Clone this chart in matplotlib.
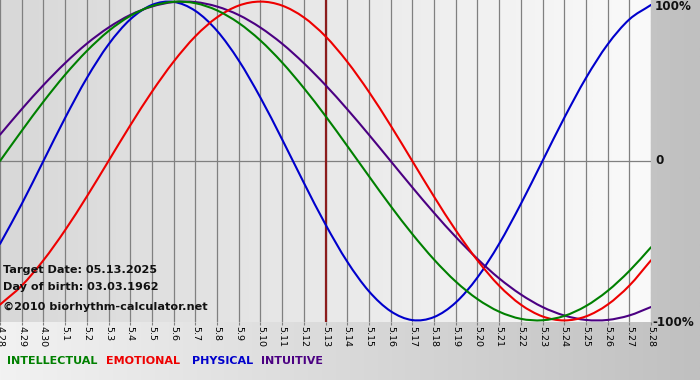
import matplotlib
matplotlib.use("Agg")
import matplotlib.pyplot as plt
import numpy as np
from matplotlib.path import Path
from matplotlib.patches import PathPatch
from matplotlib.colors import LinearSegmentedColormap

# ---- data (one per day) ----
dates = ['4.28', '4.29', '4.30'] + ['5.%d' % d for d in range(1, 29)]

physical = [-0.520, -0.270, 0.000, 0.270, 0.520, 0.731, 0.888, 0.979, 0.998, 0.942,
            0.817, 0.631, 0.398, 0.136, -0.136, -0.398, -0.631, -0.817, -0.942, -0.998,
            -0.979, -0.888, -0.731, -0.520, -0.270, 0.000, 0.270, 0.520, 0.731, 0.888,
            0.979]
emotional = [-0.901, -0.782, -0.623, -0.434, -0.223, 0.000, 0.223, 0.434, 0.623, 0.782,
             0.901, 0.975, 1.000, 0.975, 0.901, 0.782, 0.623, 0.434, 0.223, 0.000,
             -0.223, -0.434, -0.623, -0.782, -0.901, -0.975, -1.000, -0.975, -0.901, -0.782,
             -0.623]
intellectual = [0.000, 0.189, 0.372, 0.541, 0.690, 0.815, 0.910, 0.972, 0.999, 0.990,
                0.945, 0.866, 0.756, 0.618, 0.458, 0.282, 0.095, -0.095, -0.282, -0.458,
                -0.618, -0.756, -0.866, -0.945, -0.990, -0.999, -0.972, -0.910, -0.815, -0.690,
                -0.541]
intuitive = [0.165, 0.325, 0.476, 0.614, 0.736, 0.837, 0.916, 0.969, 0.997, 0.997,
             0.969, 0.916, 0.837, 0.736, 0.614, 0.476, 0.325, 0.165, 0.000, -0.165,
             -0.325, -0.476, -0.614, -0.736, -0.837, -0.916, -0.969, -0.997, -0.997, -0.969,
             -0.916]
target_label = '5.13'
y_labels = ['100%', '0', '-100%']
legend_names = ['INTELLECTUAL', 'EMOTIONAL', 'PHYSICAL', 'INTUITIVE']
info_lines = ['Target Date: 05.13.2025', 'Day of birth: 03.03.1962',
              '\u00a92010 biorhythm-calculator.net']

W, H = 700, 380
fig = plt.figure(figsize=(W / 100, H / 100), dpi=100)

# figure background gradient (light left -> gray right)
bg = fig.add_axes([0, 0, 1, 1], zorder=-10)
grad = np.linspace(0, 1, 256).reshape(1, -1)
cm_bg = LinearSegmentedColormap.from_list('bg', ['#f2f2f2', '#c0c0c0'])
bg.imshow(grad, aspect='auto', cmap=cm_bg, extent=(0, 1, 0, 1))
bg.set_axis_off()

pl, pr, pt, pb = 0, 651, 0, 322
ax = fig.add_axes([pl / W, 1 - pb / H, (pr - pl) / W, (pb - pt) / H])
x = np.arange(len(dates))
ax.set_xlim(0, len(dates) - 1)
ax.set_ylim(-1.01, 1.01)

cm_pa = LinearSegmentedColormap.from_list('pa', ['#d8d8d8', '#fafafa'])
ax.imshow(grad, aspect='auto', cmap=cm_pa, extent=(0, len(dates) - 1, -1.01, 1.01), zorder=0)

for xi in x:
    ax.axvline(xi, color='#808080', lw=0.9, zorder=1)
ax.axhline(0, color='#808080', lw=0.9, zorder=1)
ax.axvline(dates.index(target_label), color='#8b1c1c', lw=1.6, zorder=2)


def smooth_line(ax, xs, ys, color, lw, zorder):
    """Draw a smooth (Catmull-Rom style) curve through the data points."""
    P = np.column_stack([xs, ys]).astype(float)
    ext = np.vstack([2 * P[0] - P[1], P, 2 * P[-1] - P[-2]])
    verts = [tuple(P[0])]
    codes = [Path.MOVETO]
    for i in range(1, len(ext) - 2):
        p0, p1, p2, p3 = ext[i - 1], ext[i], ext[i + 1], ext[i + 2]
        c1 = p1 + (p2 - p0) / 6.0
        c2 = p2 - (p3 - p1) / 6.0
        verts += [tuple(c1), tuple(c2), tuple(p2)]
        codes += [Path.CURVE4] * 3
    patch = PathPatch(Path(verts, codes), facecolor='none', edgecolor=color,
                      lw=lw, zorder=zorder, capstyle='round', joinstyle='round')
    ax.add_patch(patch)


lw = 1.5
smooth_line(ax, x, physical, '#0000cc', lw, 3)
smooth_line(ax, x, intuitive, '#4b0082', lw, 4)
smooth_line(ax, x, emotional, '#ee0000', lw, 5)
smooth_line(ax, x, intellectual, '#008000', lw, 6)

for s in ax.spines.values():
    s.set_visible(False)
ax.set_xticks(x)
ax.set_xticklabels(dates, rotation=270, fontsize=6.8, family='DejaVu Sans')
ax.tick_params(axis='x', length=2, color='#808080', pad=1)
ax.set_yticks([])


def px(xp, yp):
    return xp / W, 1 - yp / H


# right labels
for lab, yy, xx in zip(y_labels, [6, 161, 322], [655, 655, 652]):
    fig.text(*px(xx, yy), lab, fontsize=8.6, fontweight='bold', va='center', ha='left',
             color='#111111')

# info text
for line, yy in zip(info_lines, [270, 287, 307]):
    fig.text(*px(3, yy), line, fontsize=8.1, fontweight='bold', va='center', ha='left',
             color='#111111', zorder=10)

# legend words
colors = ['#008000', '#ee0000', '#0000cc', '#4b0082']
xs = [7, 106, 192, 261]
for name, c, xx in zip(legend_names, colors, xs):
    fig.text(*px(xx, 361), name, fontsize=8.0, fontweight='bold', va='center', ha='left',
             color=c)

fig.savefig('out.png', dpi=100)
